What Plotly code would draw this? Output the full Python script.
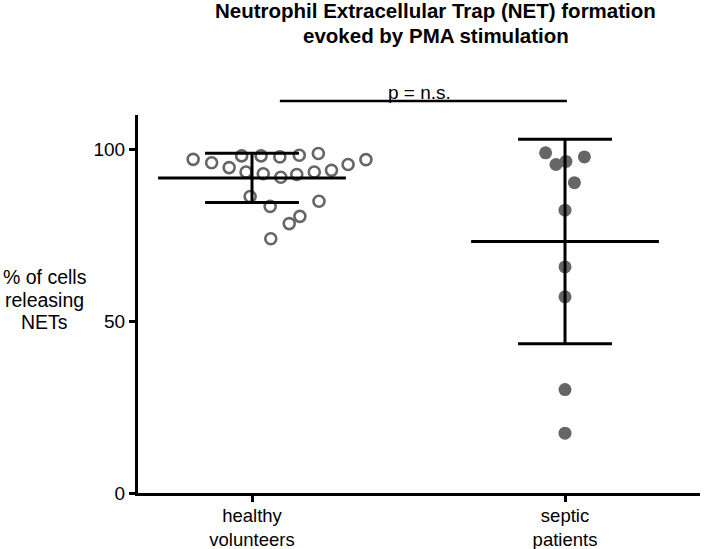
import numpy as np
import plotly.graph_objects as go

categories = ["healthy<br>volunteers", "septic<br>patients"]

# healthy volunteers: horizontal jitter offset (category units) and value (%)
healthy_offsets = [-0.188, -0.129, -0.073, -0.033, 0.029, 0.089, 0.151, 0.212, 0.254, 0.307, 0.364,
                   -0.019, 0.036, 0.092, 0.143, 0.199,
                   -0.006, 0.058, 0.214, 0.153, 0.119, 0.060]
healthy_values = [97.1, 96.1, 94.7, 98.1, 98.1, 97.8, 98.3, 98.8, 93.9, 95.6, 97.0,
                  93.4, 92.9, 91.9, 92.7, 93.4,
                  86.3, 83.4, 84.9, 80.5, 78.4, 74.0]

septic_offsets = [-0.062, -0.029, 0.003, 0.062, 0.030, 0.0, 0.0, 0.0, 0.0, 0.0]
septic_values = [99.0, 95.6, 96.5, 97.8, 90.3, 82.3, 65.8, 57.1, 30.1, 17.4]

y_ticks = [0, 50, 100]
y_title_lines = ["% of cells", "releasing", "NETs"]
title_lines = ["Neutrophil Extracellular Trap (NET) formation", "evoked by PMA stimulation"]

GREY = "#666666"
FONT = "Arial, Liberation Sans, sans-serif"

fig = go.Figure()

fig.add_trace(go.Scatter(
    x=[0 + o for o in healthy_offsets], y=healthy_values, mode="markers",
    marker=dict(symbol="circle-open", size=11, color=GREY, line=dict(width=2.6, color=GREY)),
    showlegend=False, cliponaxis=False, hoverinfo="skip"))
fig.add_trace(go.Scatter(
    x=[1 + o for o in septic_offsets], y=septic_values, mode="markers",
    marker=dict(symbol="circle", size=13, color=GREY, line=dict(width=0)),
    showlegend=False, cliponaxis=False, hoverinfo="skip"))

# mean +/- SD bars
for xi, vals in [(0, healthy_values), (1, septic_values)]:
    m = float(np.mean(vals))
    s = float(np.std(vals, ddof=1))
    line = dict(color="black", width=3)
    for xs, ys in [([xi - 0.30, xi + 0.30], [m, m]),
                   ([xi, xi], [m - s, m + s]),
                   ([xi - 0.15, xi + 0.15], [m + s, m + s]),
                   ([xi - 0.15, xi + 0.15], [m - s, m - s])]:
        fig.add_trace(go.Scatter(x=xs, y=ys, mode="lines", line=line,
                                 showlegend=False, cliponaxis=False, hoverinfo="skip"))

# significance bracket
fig.add_shape(type="line", xref="x", yref="paper", x0=0.089, x1=1.006, y0=1.037, y1=1.037,
              line=dict(color="black", width=2.5))
fig.add_annotation(xref="x", yref="paper", x=0.534, y=1.0254, yanchor="bottom", xanchor="center",
                   showarrow=False, text="p = n.s.", font=dict(family=FONT, size=19, color="black"))

# title (two bold lines)
for txt, py in zip(title_lines, [10.5, 35]):
    fig.add_annotation(xref="paper", yref="paper", x=0.530, y=(493 - py) / 378,
                       yanchor="middle", xanchor="center", showarrow=False,
                       text="<b>" + txt + "</b>", font=dict(family=FONT, size=20.5, color="black"))

# y title (horizontal, three lines)
for txt, py in zip(y_title_lines, [277, 300, 322]):
    fig.add_annotation(xref="paper", yref="paper", x=-0.1655, y=(493 - py) / 378,
                       xanchor="center", yanchor="middle",
                       showarrow=False, text=txt, font=dict(family=FONT, size=19.5, color="black"))

fig.update_layout(
    width=709, height=549,
    margin=dict(l=138, r=9, t=115, b=56),
    plot_bgcolor="white", paper_bgcolor="white",
    font=dict(family=FONT, size=18, color="black"),
    xaxis=dict(range=[-0.3642, 1.4313], tickvals=[0, 1], ticktext=categories, automargin=False,
               showgrid=False, zeroline=False, showline=True, linecolor="black", linewidth=3,
               ticks="outside", ticklen=6, tickwidth=3, tickcolor="black",
               ticklabelstandoff=-2,
               tickfont=dict(family=FONT, size=18.5)),
    yaxis=dict(range=[0, 110], tickvals=y_ticks, showgrid=False, zeroline=False, automargin=False,
               showline=True, linecolor="black", linewidth=3,
               ticks="outside", ticklen=6, tickwidth=3, tickcolor="black",
               tickfont=dict(family=FONT, size=19)),
)

fig.write_html("out.html", config={"displayModeBar": False},
               post_script="document.body.style.margin='0';document.body.style.overflow='hidden';")
